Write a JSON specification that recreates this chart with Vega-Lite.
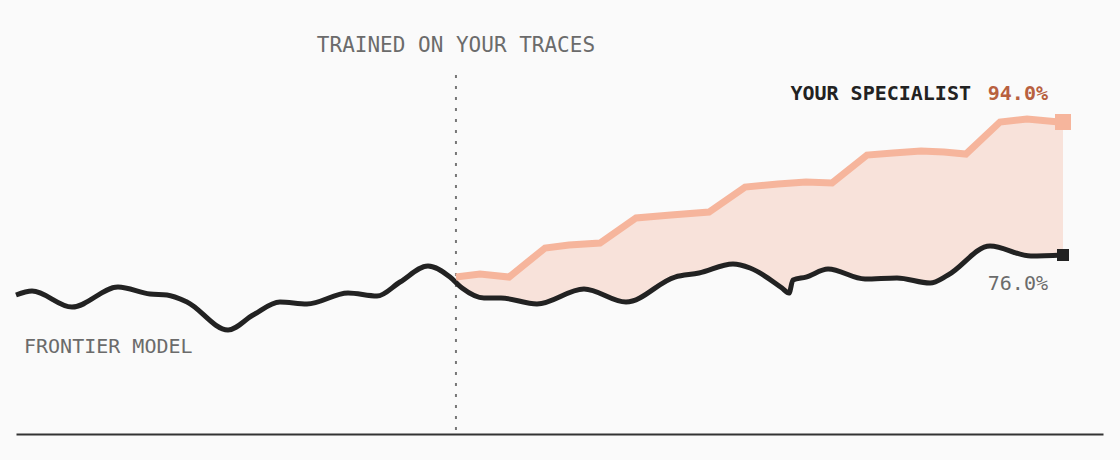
{
  "$schema": "https://vega.github.io/schema/vega-lite/v6.json",
  "width": 1087,
  "height": 434,
  "autosize": "none",
  "padding": {"left": 16, "right": 17, "top": 0, "bottom": 26},
  "background": "#fafafa",
  "config": {"view": {"stroke": null}},
  "datasets": {
    "frontier": [
      {"x": 0, "y": 70.59}, {"x": 1.53, "y": 71.13}, {"x": 5.35, "y": 68.96}, {"x": 9.74, "y": 71.67},
      {"x": 12.8, "y": 70.72}, {"x": 14.42, "y": 70.59}, {"x": 16.33, "y": 69.64}, {"x": 20.25, "y": 65.85},
      {"x": 22.64, "y": 67.88}, {"x": 25.21, "y": 69.64}, {"x": 27.79, "y": 69.37}, {"x": 31.71, "y": 70.86},
      {"x": 34.48, "y": 70.45}, {"x": 36.68, "y": 72.35}, {"x": 39.35, "y": 74.51}, {"x": 41.45, "y": 73.02},
      {"x": 42.6, "y": 71.53}, {"x": 44.7, "y": 70.18}, {"x": 46.32, "y": 70.18}, {"x": 49.76, "y": 69.37},
      {"x": 54.25, "y": 71.4}, {"x": 58.26, "y": 69.64}, {"x": 62.94, "y": 73.02}, {"x": 65.23, "y": 73.56},
      {"x": 68.48, "y": 74.78}, {"x": 70.11, "y": 74.24}, {"x": 73.16, "y": 71.53}, {"x": 73.83, "y": 70.86},
      {"x": 74.21, "y": 72.62}, {"x": 75.45, "y": 73.02}, {"x": 77.56, "y": 74.1}, {"x": 81.09, "y": 72.75},
      {"x": 84.14, "y": 72.89}, {"x": 87.3, "y": 72.21}, {"x": 89.02, "y": 73.29}, {"x": 93.03, "y": 77.22},
      {"x": 96.94, "y": 75.86}, {"x": 100, "y": 76.0}
    ],
    "specialist": [
      {"x": 42.02, "y": 73.02}, {"x": 44.32, "y": 73.43}, {"x": 47.09, "y": 73.02}, {"x": 50.53, "y": 76.95},
      {"x": 52.82, "y": 77.35}, {"x": 55.78, "y": 77.62}, {"x": 59.22, "y": 81.01}, {"x": 62.56, "y": 81.41},
      {"x": 66.19, "y": 81.82}, {"x": 69.63, "y": 85.2}, {"x": 72.78, "y": 85.61}, {"x": 75.45, "y": 85.88},
      {"x": 77.94, "y": 85.74}, {"x": 81.28, "y": 89.53}, {"x": 83.76, "y": 89.8}, {"x": 86.44, "y": 90.07},
      {"x": 88.63, "y": 89.94}, {"x": 90.73, "y": 89.67}, {"x": 93.98, "y": 94.0}, {"x": 96.56, "y": 94.41},
      {"x": 99.62, "y": 94.0}, {"x": 100, "y": 94.0}
    ],
    "switch": [
      {"x": 42.02, "y": 100.36, "label": "TRAINED ON YOUR TRACES"}
    ]
  },
  "layer": [
    {
      "data": {"name": "specialist"},
      "mark": {"type": "area", "fill": "#f6b39a", "fillOpacity": 0.33, "interpolate": "linear"},
      "encoding": {
        "x": {"field": "x", "type": "quantitative", "scale": {"domain": [0, 103.82], "nice": false, "zero": false},
              "axis": {"title": null, "labels": false, "ticks": false, "grid": false, "domainColor": "#333", "domainWidth": 2, "zindex": 1}},
        "y": {"field": "y", "type": "quantitative", "scale": {"domain": [51.78, 110.51], "nice": false, "zero": false}, "axis": null},
        "y2": {"datum": 51.78}
      }
    },
    {
      "data": {"name": "frontier"},
      "mark": {"type": "area", "fill": "#fafafa", "fillOpacity": 1, "interpolate": "monotone"},
      "encoding": {
        "x": {"field": "x", "type": "quantitative"},
        "y": {"field": "y", "type": "quantitative"},
        "y2": {"datum": 51.78}
      }
    },
    {
      "data": {"name": "switch"},
      "mark": {"type": "rule", "color": "#777", "strokeWidth": 2, "strokeDash": [3, 8]},
      "encoding": {
        "x": {"field": "x", "type": "quantitative"},
        "y": {"field": "y", "type": "quantitative"},
        "y2": {"datum": 51.78}
      }
    },
    {
      "data": {"name": "switch"},
      "mark": {"type": "text", "font": "DejaVu Sans Mono", "fontSize": 21, "color": "#6b6b6b", "align": "center", "baseline": "middle", "dy": -29},
      "encoding": {
        "x": {"field": "x", "type": "quantitative"},
        "y": {"field": "y", "type": "quantitative"},
        "text": {"field": "label"}
      }
    },
    {
      "data": {"name": "frontier"},
      "mark": {"type": "line", "color": "#222222", "strokeWidth": 5, "interpolate": "monotone"},
      "encoding": {
        "x": {"field": "x", "type": "quantitative"},
        "y": {"field": "y", "type": "quantitative"}
      }
    },
    {
      "data": {"name": "specialist"},
      "mark": {"type": "line", "color": "#f6b59c", "strokeWidth": 7, "interpolate": "linear"},
      "encoding": {
        "x": {"field": "x", "type": "quantitative"},
        "y": {"field": "y", "type": "quantitative"}
      }
    },
    {
      "data": {"name": "specialist"},
      "transform": [{"filter": "datum.x == 100"}],
      "mark": {"type": "square", "color": "#f6b59c", "size": 256, "opacity": 1},
      "encoding": {
        "x": {"field": "x", "type": "quantitative"},
        "y": {"field": "y", "type": "quantitative"}
      }
    },
    {
      "data": {"name": "frontier"},
      "transform": [{"filter": "datum.x == 100"}],
      "mark": {"type": "square", "color": "#222222", "size": 144, "opacity": 1},
      "encoding": {
        "x": {"field": "x", "type": "quantitative"},
        "y": {"field": "y", "type": "quantitative"}
      }
    },
    {
      "data": {"name": "specialist"},
      "transform": [{"filter": "datum.x == 100"}, {"calculate": "format(datum.y, '.1f') + '%'", "as": "label"}],
      "mark": {"type": "text", "font": "DejaVu Sans Mono", "fontSize": 20, "fontWeight": "bold", "color": "#b8603f", "align": "right", "baseline": "middle", "dx": -15, "dy": -28},
      "encoding": {
        "x": {"field": "x", "type": "quantitative"},
        "y": {"field": "y", "type": "quantitative"},
        "text": {"field": "label"}
      }
    },
    {
      "data": {"name": "specialist"},
      "transform": [{"filter": "datum.x == 100"}],
      "mark": {"type": "text", "font": "DejaVu Sans Mono", "fontSize": 20, "fontWeight": "bold", "color": "#222222", "align": "right", "baseline": "middle", "dx": -92, "dy": -28, "text": "YOUR SPECIALIST"},
      "encoding": {
        "x": {"field": "x", "type": "quantitative"},
        "y": {"field": "y", "type": "quantitative"}
      }
    },
    {
      "data": {"name": "frontier"},
      "transform": [{"filter": "datum.x == 100"}, {"calculate": "format(datum.y, '.1f') + '%'", "as": "label"}],
      "mark": {"type": "text", "font": "DejaVu Sans Mono", "fontSize": 20, "color": "#6b6b6b", "align": "right", "baseline": "middle", "dx": -15, "dy": 29},
      "encoding": {
        "x": {"field": "x", "type": "quantitative"},
        "y": {"field": "y", "type": "quantitative"},
        "text": {"field": "label"}
      }
    },
    {
      "data": {"name": "frontier"},
      "transform": [{"filter": "datum.x == 0"}],
      "mark": {"type": "text", "font": "DejaVu Sans Mono", "fontSize": 20, "color": "#6b6b6b", "align": "left", "baseline": "middle", "dx": 8, "dy": 52, "text": "FRONTIER MODEL"},
      "encoding": {
        "x": {"field": "x", "type": "quantitative"},
        "y": {"field": "y", "type": "quantitative"}
      }
    }
  ]
}
